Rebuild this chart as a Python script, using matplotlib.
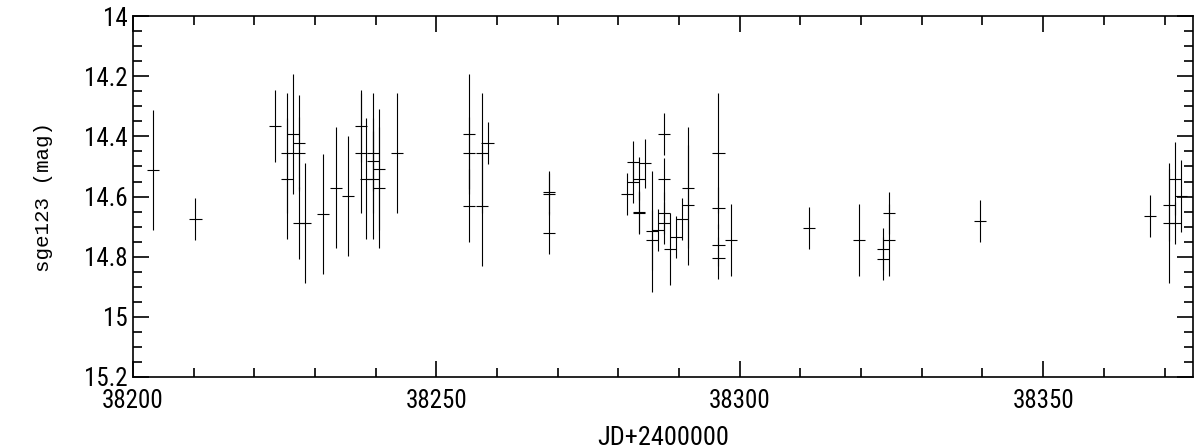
import matplotlib
matplotlib.use('Agg')
import matplotlib.pyplot as plt
from matplotlib.ticker import MultipleLocator, FuncFormatter
from matplotlib import font_manager

# light curve of sge123: JD-2400000, magnitude, error
jd = [38203.35, 38210.30, 38223.34, 38225.37, 38225.37, 38226.36, 38227.35, 38227.35,
      38227.35, 38228.39, 38231.36, 38233.39, 38235.47, 38237.51, 38237.51, 38238.39,
      38239.49, 38239.49, 38239.49, 38240.48, 38240.48, 38243.54, 38255.41, 38255.41,
      38255.41, 38257.50, 38257.50, 38258.43, 38268.53, 38268.53, 38268.53, 38281.44,
      38282.43, 38282.43, 38283.41, 38283.41, 38283.41, 38284.40, 38285.50, 38285.50,
      38286.49, 38287.48, 38287.48, 38287.48, 38287.48, 38288.52, 38289.51, 38290.50,
      38291.54, 38291.54, 38296.49, 38296.49, 38296.49, 38296.49, 38298.57, 38311.48,
      38319.66, 38323.56, 38323.56, 38324.60, 38324.60, 38339.54, 38367.60, 38370.67,
      38370.67, 38371.66, 38371.66, 38372.65]
mag = [14.511, 14.676, 14.364, 14.455, 14.540, 14.393, 14.421, 14.455,
       14.688, 14.688, 14.659, 14.570, 14.599, 14.364, 14.455, 14.540,
       14.455, 14.481, 14.540, 14.510, 14.570, 14.455, 14.393, 14.455,
       14.630, 14.455, 14.630, 14.422, 14.584, 14.592, 14.720, 14.592,
       14.486, 14.551, 14.540, 14.651, 14.656, 14.490, 14.716, 14.745,
       14.712, 14.393, 14.543, 14.656, 14.688, 14.775, 14.734, 14.676,
       14.570, 14.629, 14.455, 14.638, 14.762, 14.805, 14.745, 14.706,
       14.745, 14.773, 14.806, 14.655, 14.745, 14.680, 14.664, 14.629,
       14.688, 14.540, 14.688, 14.599]
err = [0.20, 0.07, 0.12, 0.20, 0.20, 0.20, 0.16, 0.12,
       0.12, 0.20, 0.20, 0.20, 0.20, 0.12, 0.20, 0.20,
       0.20, 0.10, 0.20, 0.20, 0.20, 0.20, 0.20, 0.12,
       0.12, 0.20, 0.20, 0.07, 0.07, 0.07, 0.07, 0.07,
       0.07, 0.07, 0.07, 0.07, 0.07, 0.08, 0.20, 0.10,
       0.07, 0.07, 0.07, 0.07, 0.07, 0.12, 0.07, 0.07,
       0.20, 0.20, 0.20, 0.07, 0.07, 0.07, 0.12, 0.07,
       0.12, 0.07, 0.07, 0.07, 0.12, 0.07, 0.07, 0.12,
       0.20, 0.12, 0.07, 0.12]

# pick a narrow face if one is installed
tickfont = 'DejaVu Sans'
stretch = 'normal'
for f in font_manager.fontManager.ttflist:
    if f.name in ('Liberation Sans Narrow', 'Roboto Condensed', 'Open Sans Condensed'):
        tickfont = f.name
        break
    if f.name in ('DejaVu Sans', 'Roboto', 'Open Sans', 'Noto Sans') and 'ondensed' in str(f.stretch) + f.fname:
        tickfont = f.name
        stretch = 'condensed'

fig = plt.figure(figsize=(12, 4.48), dpi=100)
ax = fig.add_axes([0.1108, 0.1585, 0.8834, 0.8055])

ax.errorbar(jd, mag, yerr=err, xerr=1.0, fmt='none', ecolor='k', elinewidth=0.8, capsize=0)

ax.set_xlim(38200, 38374.7)
ax.set_ylim(15.2, 14.0)

ax.xaxis.set_major_locator(MultipleLocator(50))
ax.xaxis.set_minor_locator(MultipleLocator(10))
ax.yaxis.set_major_locator(MultipleLocator(0.2))
ax.yaxis.set_minor_locator(MultipleLocator(0.05))
ax.yaxis.set_major_formatter(FuncFormatter(lambda v, p: ('%.1f' % v).rstrip('0').rstrip('.')))

ax.tick_params(which='both', direction='in', top=True, right=True, width=1.2)
ax.tick_params(which='major', length=11.5, labelsize=18)
ax.tick_params(axis='x', which='major', pad=9)
ax.tick_params(axis='y', which='major', pad=4)
ax.tick_params(which='minor', length=6.5)
for lab in ax.get_xticklabels() + ax.get_yticklabels():
    lab.set_family(tickfont)
    lab.set_stretch(stretch)
for s in ax.spines.values():
    s.set_linewidth(1.2)

ax.set_xlabel('JD+2400000', family=tickfont, stretch=stretch, fontsize=19, labelpad=9)
ax.set_ylabel('sge123 (mag)', family='Liberation Mono', fontsize=15, labelpad=22)

fig.savefig('out.png', dpi=100)
